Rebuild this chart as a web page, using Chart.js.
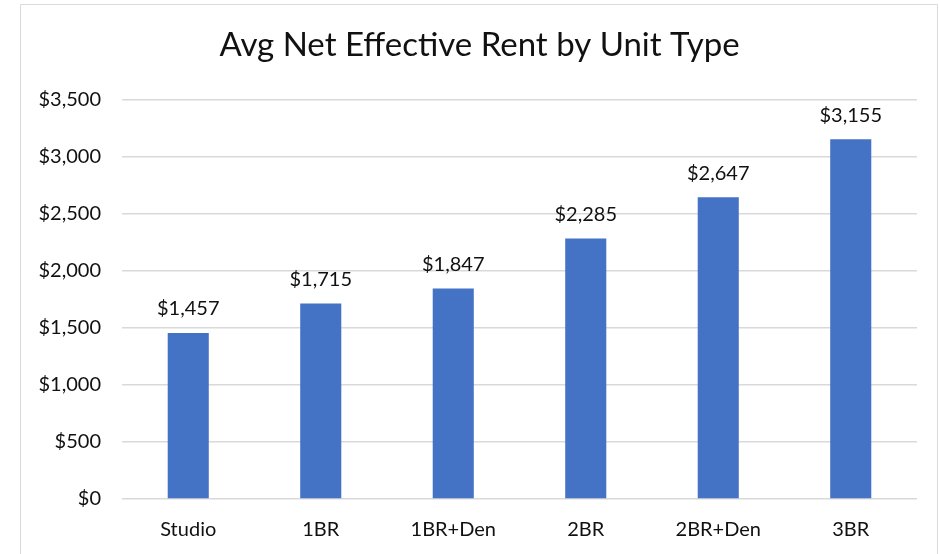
<!DOCTYPE html>
<html>
<head>
<meta charset="utf-8">
<title>Avg Net Effective Rent by Unit Type</title>
<script src="https://cdn.jsdelivr.net/npm/chart.js@4.4.1/dist/chart.umd.min.js"></script>
<style>
  html, body { margin: 0; padding: 0; background: #ffffff; }
  #wrap { width: 939px; height: 554px; }
</style>
</head>
<body>
<div id="wrap"><canvas id="chart" width="939" height="554"></canvas></div>
<script>
// Unit types and their average net effective rent (USD / month)
const unitTypes = ['Studio', '1BR', '1BR+Den', '2BR', '2BR+Den', '3BR'];
const avgRent = [1457, 1715, 1847, 2285, 2647, 3155];
const rentTicks = [0, 500, 1000, 1500, 2000, 2500, 3000, 3500];

const FONT = 'Lato, "Open Sans", "DejaVu Sans", sans-serif';
const TEXT = '#111111';

const money = v => '$' + Number(v).toLocaleString('en-US');

// White panel with a thin light-grey frame
const framePlugin = {
  id: 'frame',
  beforeDraw(chart) {
    const { ctx, width, height } = chart;
    ctx.save();
    ctx.fillStyle = '#ffffff';
    ctx.fillRect(0, 0, width, height);
    ctx.strokeStyle = '#d9d9d9';
    ctx.lineWidth = 1;
    ctx.beginPath();
    ctx.moveTo(20.5, height);
    ctx.lineTo(20.5, 4.5);
    ctx.lineTo(937.5, 4.5);
    ctx.lineTo(937.5, height);
    ctx.stroke();
    ctx.restore();
  }
};

// Value labels above each bar
const valueLabels = {
  id: 'valueLabels',
  afterDatasetsDraw(chart) {
    const { ctx } = chart;
    ctx.save();
    ctx.font = '20px ' + FONT;
    ctx.fillStyle = TEXT;
    ctx.textAlign = 'center';
    ctx.textBaseline = 'middle';
    chart.data.datasets.forEach((ds, di) => {
      chart.getDatasetMeta(di).data.forEach((bar, i) => {
        ctx.fillText(money(ds.data[i]), bar.x, bar.y - 24);
      });
    });
    ctx.restore();
  }
};

new Chart(document.getElementById('chart'), {
  type: 'bar',
  data: {
    labels: unitTypes,
    datasets: [{
      label: 'Avg Net Effective Rent',
      data: avgRent,
      backgroundColor: '#4472C4',
      borderWidth: 0,
      categoryPercentage: 1.0,
      barPercentage: 0.31
    }]
  },
  options: {
    responsive: false,
    animation: false,
    layout: { padding: { left: 20, right: 0, top: 0, bottom: 0 } },
    plugins: {
      legend: { display: false },
      tooltip: { enabled: false },
      title: {
        display: true,
        text: 'Avg Net Effective Rent by Unit Type',
        color: TEXT,
        font: { family: FONT, size: 33, weight: 'normal', lineHeight: 1.2 },
        padding: { top: 26, bottom: 34.4 }
      }
    },
    scales: {
      x: {
        grid: { display: false, drawTicks: false },
        border: { display: false },
        ticks: { color: TEXT, font: { family: FONT, size: 20 }, padding: 19 },
        afterFit(scale) { scale.height = 55; }
      },
      y: {
        min: rentTicks[0],
        max: rentTicks[rentTicks.length - 1],
        afterBuildTicks(scale) { scale.ticks = rentTicks.map(v => ({ value: v })); },
        grid: { color: '#d9d9d9', lineWidth: 1.5, drawTicks: false },
        border: { display: false },
        ticks: { color: TEXT, font: { family: FONT, size: 20 }, padding: 21, callback: v => money(v) },
        afterFit(scale) { scale.width = 102; }
      },
      yRight: {
        position: 'right',
        display: true,
        grid: { display: false, drawTicks: false },
        border: { display: false },
        ticks: { display: false },
        afterFit(scale) { scale.width = 22; }
      }
    }
  },
  plugins: [framePlugin, valueLabels]
});
</script>
</body>
</html>
